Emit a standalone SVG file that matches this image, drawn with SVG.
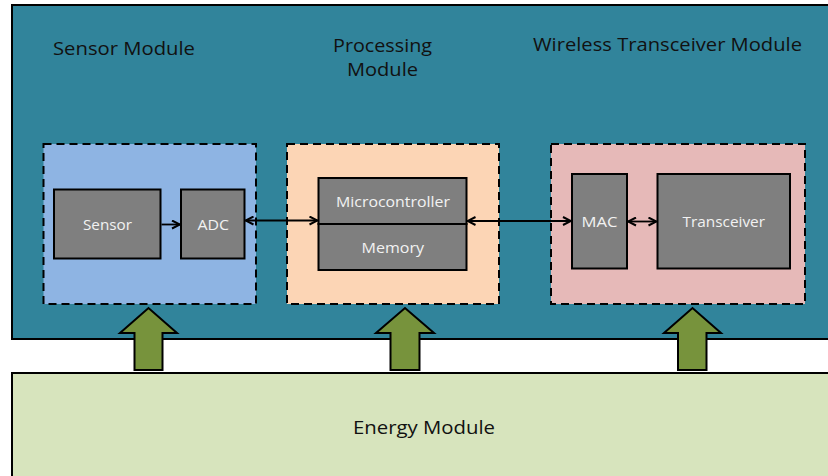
<svg xmlns="http://www.w3.org/2000/svg" width="828" height="476" viewBox="0 0 828 476">
  <style>
    .outer { fill: #31849b; stroke: #000; stroke-width: 2; }
    .energy { fill: #d7e4bd; stroke: #000; stroke-width: 2; }
    .group { stroke: #000; stroke-width: 2; stroke-dasharray: 8 5; }
    .block { fill: #7f7f7f; stroke: #000; stroke-width: 2; }
    .title { font-family: "Open Sans", "Liberation Sans", sans-serif; font-size: 17.5px; fill: #111; }
    .label { font-family: "Open Sans", "Liberation Sans", sans-serif; font-size: 14.5px; fill: #f2f2f2; dominant-baseline: central; }
    .energyText { font-family: "Open Sans", "Liberation Sans", sans-serif; font-size: 19px; fill: #111; dominant-baseline: central; }
    .link { stroke: #000; stroke-width: 1.8; fill: none; }
    .power { fill: #77933c; stroke: #000; stroke-width: 2; stroke-linejoin: miter; }
  </style>
  <defs>
    <marker id="head" viewBox="0 0 10 10" refX="9" refY="5" markerWidth="10" markerHeight="10" markerUnits="userSpaceOnUse" orient="auto-start-reverse">
      <path d="M1,1 L9,5 L1,9" fill="none" stroke="#000" stroke-width="2"/>
    </marker>
  </defs>

  <g id="node-node-module">
    <rect class="outer" x="12" y="5" width="830" height="334"/>
    <text class="title" x="53" y="55" textLength="142" lengthAdjust="spacingAndGlyphs">Sensor Module</text>
    <text class="title" x="333" y="52" textLength="99" lengthAdjust="spacingAndGlyphs">Processing</text>
    <text class="title" x="347" y="76" textLength="71" lengthAdjust="spacingAndGlyphs">Module</text>
    <text class="title" x="533" y="51" textLength="269" lengthAdjust="spacingAndGlyphs">Wireless Transceiver Module</text>
  </g>

  <g id="node-energy">
    <rect class="energy" x="12" y="373" width="830" height="110"/>
    <text class="energyText" x="353" y="427" textLength="142" lengthAdjust="spacingAndGlyphs">Energy Module</text>
  </g>

  <g id="node-sensor-group">
    <rect class="group" x="43.5" y="144" width="212.5" height="160" fill="#8eb4e3"/>
  </g>
  <g id="node-processing-group">
    <rect class="group" x="287" y="144" width="212" height="160" fill="#fcd5b5"/>
  </g>
  <g id="node-wireless-group">
    <rect class="group" x="551" y="144" width="254" height="160" fill="#e6b9b8"/>
  </g>

  <g id="node-sensor">
    <rect class="block" x="54" y="189.5" width="106.5" height="69"/>
    <text class="label" x="83" y="224" textLength="49" lengthAdjust="spacingAndGlyphs">Sensor</text>
  </g>
  <g id="node-adc">
    <rect class="block" x="181" y="189.5" width="63.5" height="69"/>
    <text class="label" x="197.5" y="224" textLength="31.5" lengthAdjust="spacingAndGlyphs">ADC</text>
  </g>
  <g id="node-microcontroller">
    <rect class="block" x="318.5" y="178" width="148" height="46"/>
    <text class="label" x="336" y="201" textLength="114" lengthAdjust="spacingAndGlyphs">Microcontroller</text>
  </g>
  <g id="node-memory">
    <rect class="block" x="318.5" y="224" width="148" height="46"/>
    <text class="label" x="361.5" y="247.5" textLength="62.5" lengthAdjust="spacingAndGlyphs">Memory</text>
  </g>
  <g id="node-mac">
    <rect class="block" x="572" y="174" width="55" height="94.5"/>
    <text class="label" x="581.5" y="221" textLength="36" lengthAdjust="spacingAndGlyphs">MAC</text>
  </g>
  <g id="node-transceiver">
    <rect class="block" x="657.5" y="174" width="132.5" height="94.5"/>
    <text class="label" x="682.5" y="221" textLength="82.5" lengthAdjust="spacingAndGlyphs">Transceiver</text>
  </g>

  <g id="connectors">
    <line class="link" x1="161.5" y1="224.5" x2="180" y2="224.5" marker-end="url(#head)"/>
    <line class="link" x1="245.5" y1="220.5" x2="317.5" y2="220.5" marker-start="url(#head)" marker-end="url(#head)"/>
    <line class="link" x1="467.5" y1="221" x2="571" y2="221" marker-start="url(#head)" marker-end="url(#head)"/>
    <line class="link" x1="628" y1="221.5" x2="656.5" y2="221.5" marker-start="url(#head)" marker-end="url(#head)"/>

    <path class="power" d="M134.5,370 V333 H120 L148.5,308 L177,333 H162.5 V370 Z"/>
    <path class="power" d="M390.5,370 V333 H376 L405,308 L434,333 H419.5 V370 Z"/>
    <path class="power" d="M678,370 V333 H664 L692.5,308 L721,333 H706.5 V370 Z"/>
  </g>
</svg>
